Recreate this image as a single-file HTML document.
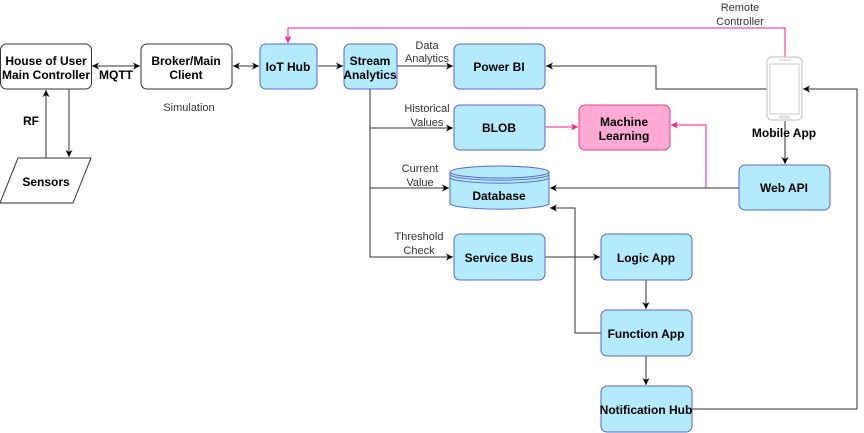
<!DOCTYPE html>
<html><head><meta charset="utf-8"><style>
html,body{margin:0;padding:0;background:#fff;}
svg{display:block;font-family:"Liberation Sans",Arial,sans-serif;}
.b{font-weight:bold;font-size:12px;fill:#000;}
.l{font-size:11px;fill:#333;}
</style></head><body>
<svg width="864" height="433" viewBox="0 0 864 433" xmlns="http://www.w3.org/2000/svg">
<defs>
<marker id="a" markerWidth="8" markerHeight="8" refX="7" refY="4" orient="auto" markerUnits="userSpaceOnUse"><path d="M0,0.5 L7,4 L0,7.5 L2,4z" fill="#000"/></marker>
<marker id="as" markerWidth="8" markerHeight="8" refX="1" refY="4" orient="auto" markerUnits="userSpaceOnUse"><path d="M8,0.5 L1,4 L8,7.5 L6,4z" fill="#000"/></marker>
<marker id="p" markerWidth="8" markerHeight="8" refX="7" refY="4" orient="auto" markerUnits="userSpaceOnUse"><path d="M0,0.5 L7,4 L0,7.5 L2,4z" fill="#ff1493"/></marker>
</defs>
<g fill="none" stroke="#333" stroke-width="1">
<!-- house <-> broker -->
<line x1="92" y1="66" x2="140" y2="66" marker-start="url(#as)" marker-end="url(#a)"/>
<line x1="233" y1="66" x2="259" y2="66" marker-start="url(#as)" marker-end="url(#a)"/>
<line x1="318" y1="66" x2="343" y2="66" marker-end="url(#a)"/>
<line x1="397" y1="66" x2="453" y2="66" marker-end="url(#a)"/>
<!-- RF -->
<line x1="46" y1="158" x2="46" y2="90" marker-end="url(#a)"/>
<line x1="69" y1="89" x2="69" y2="157" marker-end="url(#a)"/>
<!-- stream trunk -->
<polyline points="370,89 370,257 453,257" marker-end="url(#a)"/>
<line x1="370" y1="128" x2="453" y2="128" marker-end="url(#a)"/>
<line x1="370" y1="188" x2="449" y2="188" marker-end="url(#a)"/>
<!-- service bus to logic -->
<line x1="545" y1="257" x2="600" y2="257" marker-end="url(#a)"/>
<line x1="646" y1="280" x2="646" y2="309" marker-end="url(#a)"/>
<line x1="646" y1="356" x2="646" y2="385" marker-end="url(#a)"/>
<polyline points="601,333 575,333 575,208 550,208" marker-end="url(#a)"/>
<!-- notif to mobile -->
<polyline points="692,409 857,409 857,89 803,89" marker-end="url(#a)"/>
<!-- mobile to power bi -->
<polyline points="767,89 656,89 656,66 546,66" marker-end="url(#a)"/>
<!-- mobile to web api -->
<line x1="785" y1="121" x2="785" y2="164" marker-end="url(#a)"/>
<!-- web api to database -->
<line x1="739" y1="188" x2="550" y2="188" marker-end="url(#a)"/>
</g>
<g fill="none" stroke="#ff1493" stroke-width="1">
<polyline points="785,57 785,28 288,28 288,43" marker-end="url(#p)"/>
<line x1="546" y1="127" x2="578" y2="127" marker-end="url(#p)"/>
<polyline points="706,188 706,125 671,125" marker-end="url(#p)"/>
</g>
<!-- boxes -->
<g stroke-width="1">
<rect x="0.5" y="44" width="91" height="45" rx="6" fill="#fff" stroke="#333"/>
<rect x="141" y="44" width="91" height="45" rx="6" fill="#fff" stroke="#333"/>
<g fill="#b3ebfd" stroke="#5a67c9">
<rect x="260" y="44" width="57" height="45" rx="6"/>
<rect x="344" y="44" width="53" height="45" rx="6"/>
<rect x="454" y="44" width="91" height="45" rx="6"/>
<rect x="454" y="105" width="91" height="45" rx="6"/>
<rect x="739" y="165" width="91" height="45" rx="6"/>
<rect x="454" y="234" width="91" height="46" rx="6"/>
<rect x="601" y="234" width="91" height="46" rx="6"/>
<rect x="601" y="310" width="91" height="46" rx="6"/>
<rect x="601" y="386" width="91" height="46" rx="6"/>
<path d="M450,172 v32 a50,6 0 0 0 99,0 v-32"/>
<ellipse cx="499.5" cy="172" rx="49.5" ry="6"/>
<path d="M450,175 a50,6 0 0 0 99,0 M450,178 a50,6 0 0 0 99,0" fill="none"/>
</g>
<rect x="579" y="105" width="91" height="45" rx="6" fill="#ffaad5" stroke="#e0408a"/>
<polygon points="18,158 91,158 73,203 0,203" fill="#fff" stroke="#333"/>
<!-- phone -->
<rect x="767" y="57" width="35" height="63" rx="5" fill="#fff" stroke="#ccc" stroke-width="1.2"/>
<rect x="770" y="64" width="29" height="50" fill="#fff" stroke="#ccc"/>
<rect x="780" y="116" width="9" height="2" rx="1" fill="none" stroke="#ccc"/>
<line x1="779" y1="60" x2="791" y2="60" stroke="#ccc"/>
</g>
<!-- text -->
<g text-anchor="middle">
<text class="b" x="46" y="65">House of User</text>
<text class="b" x="46" y="79">Main Controller</text>
<text class="b" x="186" y="65">Broker/Main</text>
<text class="b" x="186" y="79">Client</text>
<text class="b" x="288" y="71">IoT Hub</text>
<text class="b" x="370" y="65">Stream</text>
<text class="b" x="370" y="79">Analytics</text>
<text class="b" x="499" y="71">Power BI</text>
<text class="b" x="499" y="132">BLOB</text>
<text class="b" x="624" y="126">Machine</text>
<text class="b" x="624" y="140">Learning</text>
<text class="b" x="499" y="200">Database</text>
<text class="b" x="784" y="192">Web API</text>
<text class="b" x="499" y="262">Service Bus</text>
<text class="b" x="646" y="262">Logic App</text>
<text class="b" x="646" y="338">Function App</text>
<text class="b" x="646" y="414">Notification Hub</text>
<text class="b" x="46" y="186">Sensors</text>
<text class="b" x="784" y="137">Mobile App</text>
<text class="b" x="116" y="79">MQTT</text>
<text class="b" x="31" y="125">RF</text>
<text class="l" x="189" y="111">Simulation</text>
<text class="l" x="740" y="11">Remote</text>
<text class="l" x="740" y="25">Controller</text>
<text class="l" x="427" y="49">Data</text>
<text class="l" x="427" y="62">Analytics</text>
<text class="l" x="427" y="112">Historical</text>
<text class="l" x="427" y="126">Values</text>
<text class="l" x="420" y="172">Current</text>
<text class="l" x="420" y="186">Value</text>
<text class="l" x="419" y="240">Threshold</text>
<text class="l" x="419" y="254">Check</text>
</g>
</svg>
</body></html>
